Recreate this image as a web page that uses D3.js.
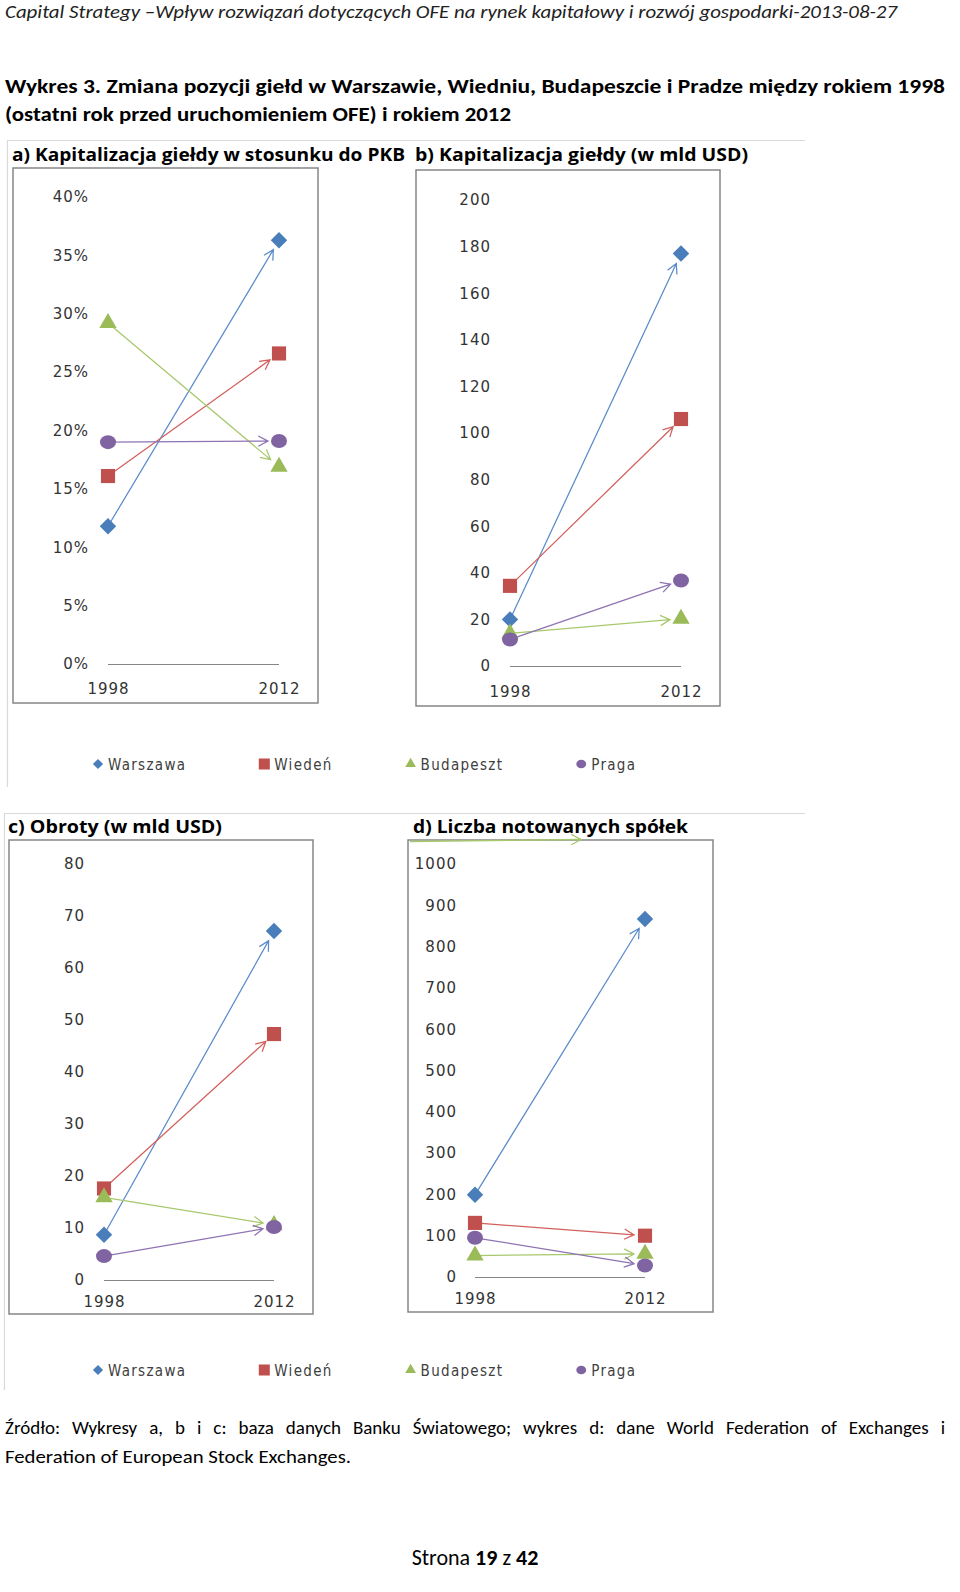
<!DOCTYPE html>
<html>
<head>
<meta charset="utf-8">
<script src="https://cdn.jsdelivr.net/npm/d3@7"></script>
<style>
  body { margin: 0; background: #fff; }
  svg { display: block; }
  .doc { font-family: Carlito, "Liberation Sans Narrow", "Open Sans", sans-serif; fill: #000; }
  .ptitle { font-family: "Open Sans", "DejaVu Sans", sans-serif; font-weight: bold; font-size: 17px; fill: #000; }
  .yaxis text, .xaxis text { font-family: "DejaVu Sans", sans-serif; font-size: 15px; fill: #333; letter-spacing: 1px; }
  .legend text { font-family: "DejaVu Sans Condensed", "DejaVu Sans", sans-serif; font-size: 15px; fill: #404040; letter-spacing: 1.3px; }
</style>
</head>
<body>
<svg id="page" width="960" height="1592"></svg>
<script>
var years = ["1998", "2012"];
var cities = ["Warszawa", "Wiedeń", "Budapeszt", "Praga"];
var cityColors = ["#4A7EBB", "#C0504D", "#9BBB59", "#8064A2"];
var lineColors = ["#5A8BCA", "#D2605D", "#A8C86C", "#8E73B2"];
var shapes = ["diamond", "square", "triangle", "circle"];

// values per city, [1998, 2012]
var capPkb = [[11.8, 36.3], [16.1, 26.6], [29.2, 16.9], [19.0, 19.1]];
var capUsd = [[20, 177], [34.4, 106], [14, 20.3], [11.4, 36.7]];
var turnover = [[8.7, 67.1], [17.6, 47.3], [15.9, 10.6], [4.6, 10.2]];
var listed = [[199, 867], [131, 100], [52, 56], [95, 28]];

var capPkbTicks = [0, 5, 10, 15, 20, 25, 30, 35, 40];
var capUsdTicks = [0, 20, 40, 60, 80, 100, 120, 140, 160, 180, 200];
var turnoverTicks = [0, 10, 20, 30, 40, 50, 60, 70, 80];
var listedTicks = [0, 100, 200, 300, 400, 500, 600, 700, 800, 900, 1000];

var headerText = "Capital Strategy –Wpływ rozwiązań dotyczących OFE na rynek kapitałowy i rozwój gospodarki-2013-08-27";
var titleLines = ["Wykres 3. Zmiana pozycji giełd w Warszawie, Wiedniu, Budapeszcie i Pradze między rokiem 1998",
                  "(ostatni rok przed uruchomieniem OFE) i rokiem 2012"];
var sourceLines = ["Źródło: Wykresy a, b i c: baza danych Banku Światowego; wykres d: dane World Federation of Exchanges i",
                   "Federation of European Stock Exchanges."];

var panels = [
  { title: "a) Kapitalizacja giełdy w stosunku do PKB", values: capPkb, ticks: capPkbTicks, fmt: function (d) { return d + "%" },
    tx: 12, ty: 161, tw: 393, box: [13, 168, 318, 703], yr: [664, 197], xr: [108, 279], lab: 89, cat: 689 },
  { title: "b) Kapitalizacja giełdy (w mld USD)", values: capUsd, ticks: capUsdTicks, fmt: String,
    tx: 415, ty: 161, tw: 333, box: [416, 170, 720, 706], yr: [666, 200], xr: [510, 681], lab: 491, cat: 692 },
  { title: "c) Obroty (w mld USD)", values: turnover, ticks: turnoverTicks, fmt: String,
    tx: 8, ty: 833, tw: 214, box: [9, 840, 313, 1314], yr: [1280, 864], xr: [104, 274], lab: 85, cat: 1302 },
  { title: "d) Liczba notowanych spółek", values: listed, ticks: listedTicks, fmt: String,
    tx: 413, ty: 833, tw: 275, box: [408, 840, 713, 1312], yr: [1277, 864], xr: [475, 645], lab: 457, cat: 1299, stray: true }
];

var svg = d3.select("#page");

// fit a text line to a width: justify with word spacing, squeeze if too wide
var fitText = function (sel, width, justify) {
  var w = sel.node().getComputedTextLength();
  var spaces = (sel.text().match(/ /g) || []).length;
  if (w < width && justify && spaces > 0) {
    sel.attr("word-spacing", (width - w) / spaces);
  } else {
    sel.attr("textLength", width).attr("lengthAdjust", "spacingAndGlyphs");
  }
}

// page texts
var header = svg.append("text").attr("class", "doc").attr("x", 5).attr("y", 18)
  .style("font-style", "italic").style("font-size", "18px").style("fill", "#222").text(headerText);
fitText(header, 892, false);

titleLines.forEach(function (t, i) {
  var tl = svg.append("text").attr("class", "doc").attr("x", 5).attr("y", 93 + i * 28)
    .style("font-weight", "bold").style("font-size", "19.5px").text(t);
  fitText(tl, i == 0 ? 940 : 506, false);
});

sourceLines.forEach(function (t, i) {
  var sl = svg.append("text").attr("class", "doc").attr("x", 5).attr("y", 1434 + i * 29)
    .style("font-size", "19px").text(t);
  fitText(sl, i == 0 ? 940 : 346, i == 0);
});

var footer = svg.append("text").attr("class", "doc").attr("x", 475).attr("y", 1565)
  .attr("text-anchor", "middle").style("font-size", "22px");
footer.append("tspan").text("Strona ");
footer.append("tspan").style("font-weight", "bold").text("19");
footer.append("tspan").text(" z ");
footer.append("tspan").style("font-weight", "bold").text("42");

// light frames of the two chart objects
var frames = [[7, 140, 805, 787], [4, 813, 805, 1390]];
frames.forEach(function (f) {
  svg.append("path").attr("d", "M" + (f[0] + 0.5) + "," + f[3] + "V" + (f[1] + 0.5) + "H" + f[2])
    .attr("fill", "none").attr("stroke", "#d9d9d9").attr("stroke-width", 1.2);
});

var drawMarker = function (g, shape, cx, cy, color, scale) {
  if (shape == "circle") {
    g.append("ellipse").attr("cx", cx).attr("cy", cy).attr("rx", 8 * scale).attr("ry", 7 * scale).attr("fill", color);
    return;
  }
  var sym = shape == "triangle" ? d3.symbolTriangle : d3.symbolSquare;
  var size = shape == "diamond" ? 135 : shape == "square" ? 200 : 130;
  var rot = shape == "diamond" ? " rotate(45)" : "";
  g.append("path").attr("d", d3.symbol(sym, size * scale * scale)())
    .attr("transform", "translate(" + cx + "," + cy + ")" + rot)
    .attr("fill", color);
}

var arrowPath = function (x1, y1, x2, y2, gap) {
  var dx = x2 - x1, dy = y2 - y1, len = Math.sqrt(dx * dx + dy * dy);
  var ux = dx / len, uy = dy / len;
  var tx = x2 - ux * gap, ty = y2 - uy * gap;
  var a = 28 * Math.PI / 180, L = 11;
  var ax1 = tx - L * (ux * Math.cos(a) - uy * Math.sin(a));
  var ay1 = ty - L * (uy * Math.cos(a) + ux * Math.sin(a));
  var ax2 = tx - L * (ux * Math.cos(a) + uy * Math.sin(a));
  var ay2 = ty - L * (uy * Math.cos(a) - ux * Math.sin(a));
  return "M" + x1 + "," + y1 + "L" + tx + "," + ty + "M" + ax1 + "," + ay1 + "L" + tx + "," + ty + "L" + ax2 + "," + ay2;
}

panels.forEach(function (p) {
  var g = svg.append("g");
  var yScale = d3.scaleLinear().domain([p.ticks[0], p.ticks[p.ticks.length - 1]]).range(p.yr);
  var xScale = d3.scalePoint().domain(years).range(p.xr);

  var title = g.append("text").attr("class", "ptitle").attr("x", p.tx).attr("y", p.ty).text(p.title);
  fitText(title, p.tw, false);

  g.append("rect").attr("x", p.box[0]).attr("y", p.box[1])
    .attr("width", p.box[2] - p.box[0]).attr("height", p.box[3] - p.box[1])
    .attr("fill", "#fff").attr("stroke", "#868686").attr("stroke-width", 1.5);

  var yAxis = g.append("g").attr("class", "yaxis").attr("transform", "translate(" + p.lab + ",0)")
    .call(d3.axisLeft(yScale).tickValues(p.ticks).tickFormat(p.fmt).tickSize(0).tickPadding(0));
  yAxis.select(".domain").remove();

  var xAxis = g.append("g").attr("class", "xaxis").attr("transform", "translate(0," + (p.cat - 5.5) + ")")
    .call(d3.axisBottom(xScale).tickSize(0).tickPadding(0));
  xAxis.select(".domain").remove();

  g.append("line").attr("x1", xScale(years[0])).attr("x2", xScale(years[1]))
    .attr("y1", yScale(0) + 0.5).attr("y2", yScale(0) + 0.5)
    .attr("stroke", "#868686").attr("stroke-width", 1);

  // stray arrow left over in the original chart d
  if (p.stray) {
    g.append("path")
      .attr("d", arrowPath(p.box[0] + 2, p.box[1] + 1.5, xScale(years[0]) + 106, p.box[1] - 0.5, 0))
      .attr("fill", "none").attr("stroke", lineColors[2]).attr("stroke-width", 1.3);
  }

  p.values.forEach(function (v, i) {
    g.append("path")
      .attr("d", arrowPath(xScale(years[0]), yScale(v[0]), xScale(years[1]), yScale(v[1]), 11))
      .attr("fill", "none").attr("stroke", lineColors[i]).attr("stroke-width", 1.25);
  });
  p.values.forEach(function (v, i) {
    years.forEach(function (yr, j) {
      drawMarker(g, shapes[i], xScale(yr), yScale(v[j]), cityColors[i], 1);
    });
  });
});

// legends below each pair of charts
[764, 1370].forEach(function (ly) {
  var lg = svg.append("g").attr("class", "legend");
  var x = 98;
  cities.forEach(function (c, i) {
    drawMarker(lg, shapes[i], x, ly, cityColors[i], shapes[i] == "square" ? 0.78 : 0.62);
    var t = lg.append("text").attr("x", x + 10).attr("y", ly + 5.5).text(c);
    x = x + 10 + t.node().getComputedTextLength() + 78;
  });
});
</script>
</body>
</html>
